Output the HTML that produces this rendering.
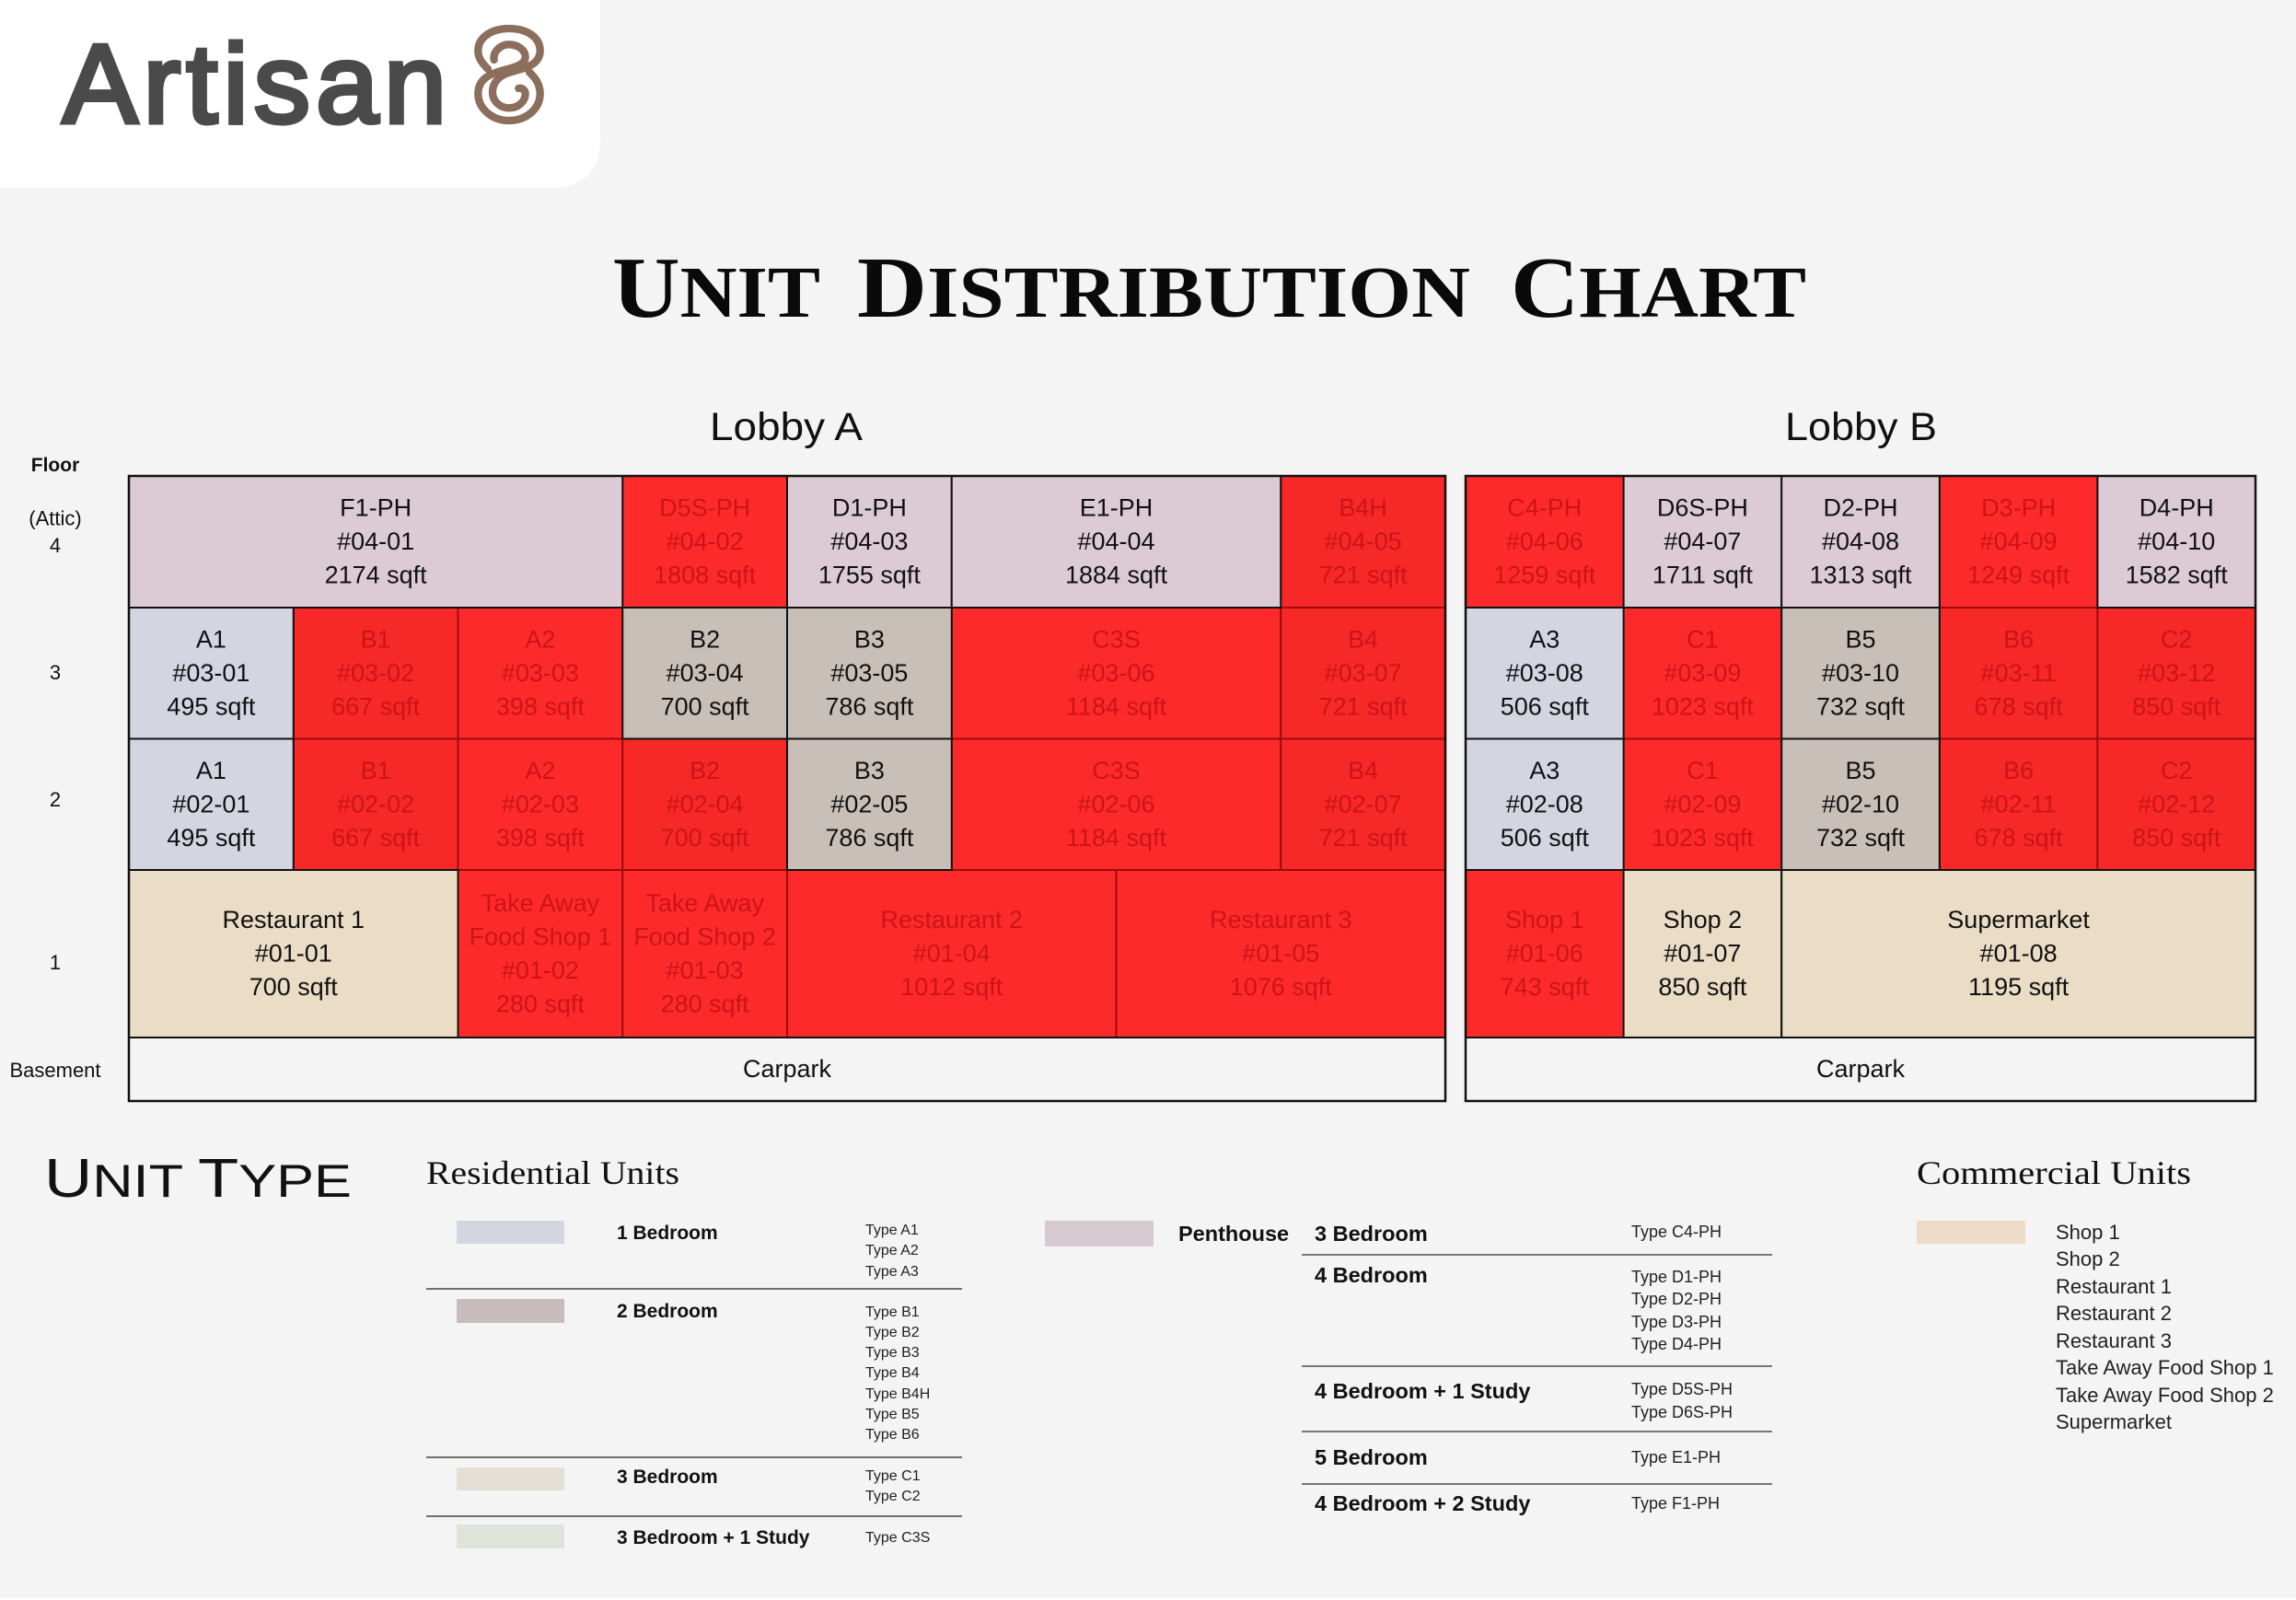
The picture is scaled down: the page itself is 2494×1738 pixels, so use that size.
<!DOCTYPE html>
<html lang="en">
<head>
<meta charset="utf-8">
<title>Unit Distribution Chart</title>
<style>
html,body{margin:0;padding:0;background:#f4f4f4;}
body{width:2494px;height:1738px;overflow:hidden;}
svg{display:block;}
text{font-family:"Liberation Sans",sans-serif;fill:#111;}
.serif{font-family:"Liberation Serif",serif;}
.bold{font-weight:700;}
.flr{font-size:22px;text-anchor:middle;}
.lb{font-weight:700;font-size:21px;}
.lb2{font-weight:700;font-size:23.5px;}
.ty{font-size:16px;fill:#222;}
.ty2{font-size:18px;fill:#222;}
.cm{font-size:22px;fill:#222;}
</style>
</head>
<body>
<svg id="chart" xmlns="http://www.w3.org/2000/svg" width="2494" height="1738" viewBox="0 0 2494 1738">
  <rect x="0" y="0" width="2494" height="1738" fill="#f4f4f4"/>
  <rect x="0" y="1736" width="2494" height="2" fill="#fdfdfd"/>
  <g>
    <path d="M0 0H652V150Q652 204 598 204H0Z" fill="#ffffff"/>
    <text x="68" y="133" font-size="122" font-weight="400" textLength="417" lengthAdjust="spacing" style="fill:#4a4a4a;stroke:#4a4a4a;stroke-width:5">Artisan</text>
    <g transform="translate(480,20) scale(.3333)" fill="none" stroke="#8b6f5c" stroke-width="25" stroke-linecap="round">
      <path d="M150 165C125 140 118 125 118 105C118 60 165 33 218 33C275 33 320 60 320 105C320 160 250 165 215 178C180 190 165 215 165 240C165 270 190 292 218 292C250 292 272 270 272 245C272 235 262 225 250 228"/>
      <path d="M170 135C165 110 190 85 218 85C250 85 272 105 272 125C272 150 240 158 215 165C160 178 118 195 118 245C118 295 165 333 218 333C275 333 320 295 320 245C320 210 300 190 285 175"/>
    </g>
  </g>

  <g>
    <text class="serif bold" x="665" y="344" textLength="226" lengthAdjust="spacingAndGlyphs" style="fill:#0a0a0a"><tspan font-size="94">U</tspan><tspan font-size="79">NIT</tspan></text>
    <text class="serif bold" x="931" y="344" textLength="666" lengthAdjust="spacingAndGlyphs" style="fill:#0a0a0a"><tspan font-size="94">D</tspan><tspan font-size="79">ISTRIBUTION</tspan></text>
    <text class="serif bold" x="1641" y="344" textLength="321" lengthAdjust="spacingAndGlyphs" style="fill:#0a0a0a"><tspan font-size="94">C</tspan><tspan font-size="79">HART</tspan></text>
  </g>

  <text x="771" y="478" font-size="43" textLength="166" lengthAdjust="spacingAndGlyphs">Lobby A</text>
  <text x="1939" y="478" font-size="43" textLength="165" lengthAdjust="spacingAndGlyphs">Lobby B</text>

  <text class="bold" x="60" y="512" font-size="21" text-anchor="middle">Floor</text>
  <g id="floor-axis"></g>
  <g id="lobby-a"></g>
  <g id="lobby-b"></g>

  <text x="48" y="1300" textLength="334" lengthAdjust="spacingAndGlyphs"><tspan font-size="59">U</tspan><tspan font-size="50">NIT </tspan><tspan font-size="59">T</tspan><tspan font-size="50">YPE</tspan></text>

  <g>
    <text class="serif" x="463" y="1286" font-size="36" textLength="275" lengthAdjust="spacingAndGlyphs">Residential Units</text>
    <rect x="496" y="1326" width="117" height="25" fill="#d3d6e0"/>
    <rect x="496" y="1411" width="117" height="26" fill="#c7bcbb"/>
    <rect x="496" y="1594" width="117" height="25" fill="#e5dfd6"/>
    <rect x="496" y="1656" width="117" height="26" fill="#dfe3da"/>
    <text class="lb" x="670" y="1346">1 Bedroom</text>
    <text class="lb" x="670" y="1431">2 Bedroom</text>
    <text class="lb" x="670" y="1611">3 Bedroom</text>
    <text class="lb" x="670" y="1677">3 Bedroom + 1 Study</text>
    <text class="ty" x="940" y="1341">Type A1</text>
    <text class="ty" x="940" y="1363">Type A2</text>
    <text class="ty" x="940" y="1386">Type A3</text>
    <rect x="463" y="1399" width="582" height="2" fill="#6f6f6c"/>
    <text class="ty" x="940" y="1430">Type B1</text>
    <text class="ty" x="940" y="1452">Type B2</text>
    <text class="ty" x="940" y="1474">Type B3</text>
    <text class="ty" x="940" y="1496">Type B4</text>
    <text class="ty" x="940" y="1519">Type B4H</text>
    <text class="ty" x="940" y="1541">Type B5</text>
    <text class="ty" x="940" y="1563">Type B6</text>
    <rect x="463" y="1582" width="582" height="2" fill="#6f6f6c"/>
    <text class="ty" x="940" y="1608">Type C1</text>
    <text class="ty" x="940" y="1630">Type C2</text>
    <rect x="463" y="1646" width="582" height="2" fill="#6f6f6c"/>
    <text class="ty" x="940" y="1675">Type C3S</text>
  </g>

  <g>
    <rect x="1135" y="1326" width="118" height="28" fill="#d6c9d0"/>
    <text class="lb2" x="1280" y="1348">Penthouse</text>
    <text class="lb2" x="1428" y="1348">3 Bedroom</text>
    <text class="ty2" x="1772" y="1344">Type C4-PH</text>
    <rect x="1414" y="1362" width="511" height="2" fill="#777"/>
    <text class="lb2" x="1428" y="1393">4 Bedroom</text>
    <text class="ty2" x="1772" y="1393">Type D1-PH</text>
    <text class="ty2" x="1772" y="1417">Type D2-PH</text>
    <text class="ty2" x="1772" y="1442">Type D3-PH</text>
    <text class="ty2" x="1772" y="1466">Type D4-PH</text>
    <rect x="1414" y="1483" width="511" height="2" fill="#777"/>
    <text class="lb2" x="1428" y="1519">4 Bedroom + 1 Study</text>
    <text class="ty2" x="1772" y="1515">Type D5S-PH</text>
    <text class="ty2" x="1772" y="1540">Type D6S-PH</text>
    <rect x="1414" y="1554" width="511" height="2" fill="#777"/>
    <text class="lb2" x="1428" y="1591">5 Bedroom</text>
    <text class="ty2" x="1772" y="1589">Type E1-PH</text>
    <rect x="1414" y="1611" width="511" height="2" fill="#777"/>
    <text class="lb2" x="1428" y="1641">4 Bedroom + 2 Study</text>
    <text class="ty2" x="1772" y="1639">Type F1-PH</text>
  </g>

  <g>
    <text class="serif" x="2082" y="1286" font-size="36" textLength="298" lengthAdjust="spacingAndGlyphs">Commercial Units</text>
    <rect x="2082" y="1326" width="118" height="25" fill="#ecdcc5"/>
    <text class="cm" x="2233" y="1346">Shop 1</text>
    <text class="cm" x="2233" y="1375">Shop 2</text>
    <text class="cm" x="2233" y="1405">Restaurant 1</text>
    <text class="cm" x="2233" y="1434">Restaurant 2</text>
    <text class="cm" x="2233" y="1464">Restaurant 3</text>
    <text class="cm" x="2233" y="1493">Take Away Food Shop 1</text>
    <text class="cm" x="2233" y="1523">Take Away Food Shop 2</text>
    <text class="cm" x="2233" y="1552">Supermarket</text>
  </g>
</svg>

<script>
// Each unit: [type label, unit number, sqft, column span, status]
const lobbyAFloor4 = [["F1-PH","#04-01",2174,3,"ph"],["D5S-PH","#04-02",1808,1,"sold"],["D1-PH","#04-03",1755,1,"ph"],["E1-PH","#04-04",1884,2,"ph"],["B4H","#04-05",721,1,"soldB"]];
const lobbyAFloor3 = [["A1","#03-01",495,1,"one"],["B1","#03-02",667,1,"soldB"],["A2","#03-03",398,1,"sold"],["B2","#03-04",700,1,"two"],["B3","#03-05",786,1,"two"],["C3S","#03-06",1184,2,"sold"],["B4","#03-07",721,1,"soldB"]];
const lobbyAFloor2 = [["A1","#02-01",495,1,"one"],["B1","#02-02",667,1,"soldB"],["A2","#02-03",398,1,"sold"],["B2","#02-04",700,1,"soldB"],["B3","#02-05",786,1,"two"],["C3S","#02-06",1184,2,"sold"],["B4","#02-07",721,1,"soldB"]];
const lobbyAFloor1 = [["Restaurant 1","#01-01",700,2,"shop"],["Take Away|Food Shop 1","#01-02",280,1,"sold"],["Take Away|Food Shop 2","#01-03",280,1,"sold"],["Restaurant 2","#01-04",1012,2,"sold"],["Restaurant 3","#01-05",1076,2,"sold"]];
const lobbyABasement = [["Carpark",null,null,8,"none"]];

const lobbyBFloor4 = [["C4-PH","#04-06",1259,1,"sold"],["D6S-PH","#04-07",1711,1,"ph"],["D2-PH","#04-08",1313,1,"ph"],["D3-PH","#04-09",1249,1,"sold"],["D4-PH","#04-10",1582,1,"ph"]];
const lobbyBFloor3 = [["A3","#03-08",506,1,"one"],["C1","#03-09",1023,1,"sold"],["B5","#03-10",732,1,"two"],["B6","#03-11",678,1,"soldB"],["C2","#03-12",850,1,"soldB"]];
const lobbyBFloor2 = [["A3","#02-08",506,1,"one"],["C1","#02-09",1023,1,"sold"],["B5","#02-10",732,1,"two"],["B6","#02-11",678,1,"soldB"],["C2","#02-12",850,1,"soldB"]];
const lobbyBFloor1 = [["Shop 1","#01-06",743,1,"sold"],["Shop 2","#01-07",850,1,"shop"],["Supermarket","#01-08",1195,3,"shop"]];
const lobbyBBasement = [["Carpark",null,null,5,"none"]];

const floorLabels = ["(Attic)|4","3","2","1","Basement"];

const SVGNS = "http://www.w3.org/2000/svg";
const fills = {ph:"#dccbd4",one:"#d3d6e0",two:"#c9bfb9",shop:"#eadcc5",sold:"#fd2a2b",soldB:"#f72828",none:"#f4f4f4"};

function floorEdge(i){ return [517,660,802.5,945,1127,1196][i]; }
function floorLabelCenter(i){ return [577,730,868,1045,1162][i]; }
function lobbyAX(col){ return 140 + col * 178.75; }
function lobbyBX(col){ return 1592 + col * 171.6; }

function drawFloor(group, rows, floorIndex, xScale, lobbyKey, passSold){
  let col = 0;
  rows.forEach(function(u){
    const span = u[3];
    const x0 = xScale(col), x1 = xScale(col + span);
    col += span;
    const isSold = u[4] === "sold" || u[4] === "soldB";
    if (isSold !== passSold) return;
    const y0 = floorEdge(floorIndex), y1 = floorEdge(floorIndex + 1);
    const slug = lobbyKey + "-" + (u[1] ? u[1].replace("#","") : "carpark");

    const cell = document.createElementNS(SVGNS,"g");
    
    

    const r = document.createElementNS(SVGNS,"rect");
    
    
    r.setAttribute("x", x0);
    r.setAttribute("y", y0);
    r.setAttribute("width", x1 - x0);
    r.setAttribute("height", y1 - y0);
    r.setAttribute("fill", fills[u[4]]);
    r.setAttribute("stroke", isSold ? "#a00a0c" : "#111");
    r.setAttribute("stroke-width", "2");
    cell.appendChild(r);

    let lines = u[0].split("|");
    if (u[1]) lines = lines.concat([u[1], u[2] + " sqft"]);
    const t = document.createElementNS(SVGNS,"text");
    
    
    t.setAttribute("font-size", "27");
    t.setAttribute("text-anchor", "middle");
    t.style.fill = isSold ? "#cc1418" : "#111";
    const cx = (x0 + x1) / 2, cy = (y0 + y1) / 2;
    lines.forEach(function(line, i){
      const s = document.createElementNS(SVGNS,"tspan");
      s.setAttribute("x", cx);
      s.setAttribute("y", cy + (i - (lines.length - 1) / 2) * 36.5 + 8.5);
      s.textContent = line;
      t.appendChild(s);
    });
    cell.appendChild(t);
    group.appendChild(cell);
  });
}

function drawLobby(id, floors, xScale, lobbyKey, columnCount){
  const g = document.getElementById(id);
  [true,false].forEach(function(pass){
    floors.forEach(function(rows, i){ drawFloor(g, rows, i, xScale, lobbyKey, pass); });
  });
  const frame = document.createElementNS(SVGNS,"rect");
  
  
  frame.setAttribute("x", xScale(0));
  frame.setAttribute("y", floorEdge(0));
  frame.setAttribute("width", xScale(columnCount) - xScale(0));
  frame.setAttribute("height", floorEdge(5) - floorEdge(0));
  frame.setAttribute("fill", "none");
  frame.setAttribute("stroke", "#111");
  frame.setAttribute("stroke-width", "2.5");
  g.appendChild(frame);
}

drawLobby("lobby-a",[lobbyAFloor4,lobbyAFloor3,lobbyAFloor2,lobbyAFloor1,lobbyABasement],lobbyAX,"lobby-a",8);
drawLobby("lobby-b",[lobbyBFloor4,lobbyBFloor3,lobbyBFloor2,lobbyBFloor1,lobbyBBasement],lobbyBX,"lobby-b",5);

const axisGroup = document.getElementById("floor-axis");
floorLabels.forEach(function(label, i){
  const parts = label.split("|");
  const cy = floorLabelCenter(i);
  parts.forEach(function(part, j){
    const t = document.createElementNS(SVGNS,"text");
    
    
    t.setAttribute("class", "flr");
    t.setAttribute("x", 60);
    t.setAttribute("y", cy + (j - (parts.length - 1) / 2) * 29.5 + 8);
    t.textContent = part;
    axisGroup.appendChild(t);
  });
});
</script>
</body>
</html>
